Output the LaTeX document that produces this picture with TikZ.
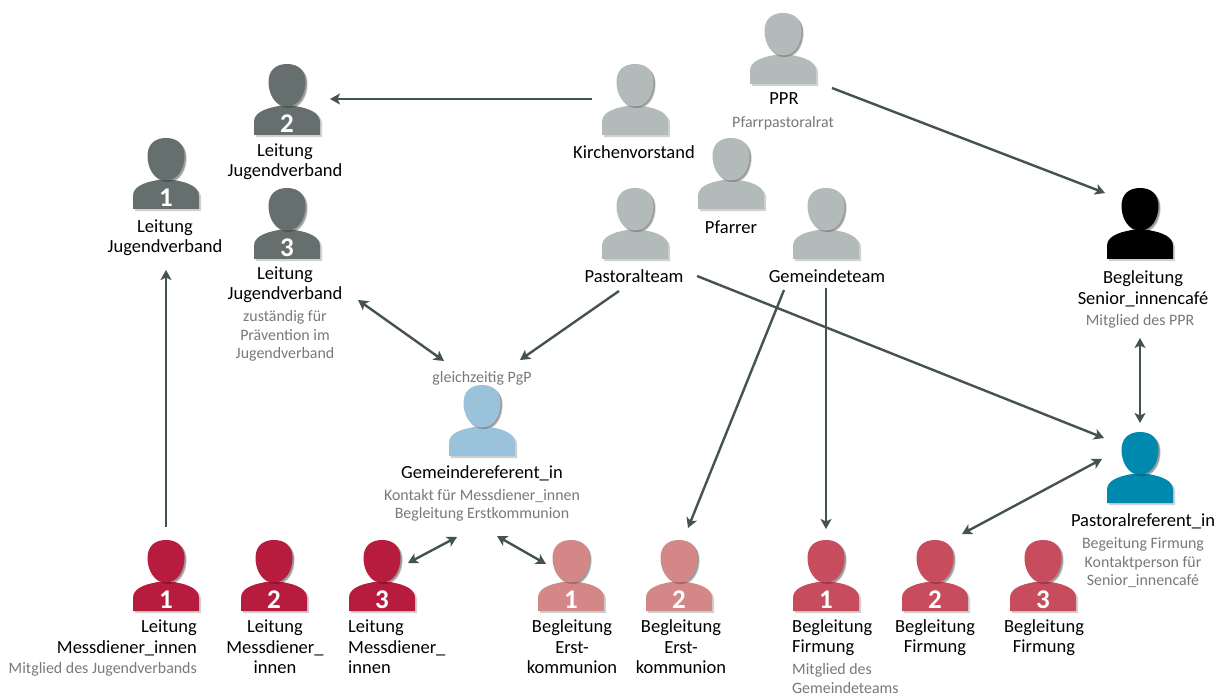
\documentclass[tikz,border=0pt]{standalone}
\usepackage{fontspec}
\setmainfont{Carlito}
\usetikzlibrary{arrows.meta}
\definecolor{cdark}{HTML}{656F6E}
\definecolor{cgrey}{HTML}{B2BBBA}
\definecolor{cblue}{HTML}{9AC3DB}
\definecolor{cteal}{HTML}{0089AE}
\definecolor{ccrim}{HTML}{B71C3F}
\definecolor{cpink}{HTML}{D38787}
\definecolor{crose}{HTML}{C74C5D}
\definecolor{carrow}{HTML}{45534F}
\definecolor{csub}{HTML}{757A7A}
\tikzset{
  x=1pt,y=-1pt,
  personbox/.style={rectangle,minimum width=66pt,minimum height=71pt,inner sep=0pt,outer sep=0pt},
  numlabel/.style={font=\fontsize{27}{27}\selectfont\bfseries,text=white,inner sep=0pt},
  lab/.style={font=\fontsize{18.5}{20.4}\selectfont,text=black,inner sep=0pt,align=center},
  labl/.style={lab,align=left,anchor=west},
  labr/.style={lab,align=right,anchor=east},
  sub/.style={font=\fontsize{15.9}{18.5}\selectfont,text=csub,inner sep=0pt,align=center},
  subl/.style={sub,align=left,anchor=west},
  subr/.style={sub,align=right,anchor=east},
  conn/.style={draw=carrow,line width=2.4pt,-{Stealth[length=10pt,width=11pt,inset=2.5pt]}},
  conn2/.style={draw=carrow,line width=2.4pt,{Stealth[length=10pt,width=11pt,inset=2.5pt]}-{Stealth[length=10pt,width=11pt,inset=2.5pt]}},
}
\newcommand\headpath{(0,0) .. controls (12,0) and (18.5,7) .. (18.5,18) .. controls (18.5,30) and (12,42.5) .. (0,42.5) .. controls (-12,42.5) and (-18.5,30) .. (-18.5,18) .. controls (-18.5,7) and (-12,0) .. (0,0) -- cycle}
\newcommand\bodypath{(-33,71) -- (-33,58) .. controls (-33,49) and (-23,44.5) .. (-8,42) -- (8,42) .. controls (23,44.5) and (33,49) .. (33,58) -- (33,71) -- cycle}
% #1 name, #2 x, #3 top, #4 colour
\newcommand\person[4]{%
  \begin{scope}[shift={(#2,#3)}]
    \fill[black,opacity=.18] [shift={(2.2,2.2)}] \headpath;
    \fill[black,opacity=.18] [shift={(2.2,2.2)}] \bodypath;
    \fill[#4] \bodypath;
    \fill[black,opacity=.25] [shift={(1.5,1.5)}] \headpath;
    \fill[#4] \headpath;
    \node[personbox] (#1) at (0,35.5) {};
  \end{scope}}
\newcommand\pnum[2]{\node[numlabel] (#1num) at ([yshift=-24pt]#1.center) {#2};}
\begin{document}
\begin{tikzpicture}
\useasboundingbox (0,0) rectangle (1216,695);
\fill[white] (0,0) rectangle (1216,695);
\person{lja}{166}{138}{cdark}\pnum{lja}{1}
\person{ljb}{287}{64}{cdark}\pnum{ljb}{2}
\person{ljc}{287}{188}{cdark}\pnum{ljc}{3}
\person{kv}{635}{64}{cgrey}
\person{ppr}{783}{13}{cgrey}
\person{pf}{731}{138}{cgrey}
\person{pt}{635}{188}{cgrey}
\person{gt}{826}{188}{cgrey}
\person{sc}{1140}{188}{black}
\person{gr}{482}{385}{cblue}
\person{pr}{1140}{432}{cteal}
\person{msa}{166}{540}{ccrim}\pnum{msa}{1}
\person{msb}{274}{540}{ccrim}\pnum{msb}{2}
\person{msc}{382}{540}{ccrim}\pnum{msc}{3}
\person{eka}{571}{540}{cpink}\pnum{eka}{1}
\person{ekb}{679}{540}{cpink}\pnum{ekb}{2}
\person{fia}{826}{540}{crose}\pnum{fia}{1}
\person{fib}{935}{540}{crose}\pnum{fib}{2}
\person{fic}{1043}{540}{crose}\pnum{fic}{3}

\node[lab] (tljb) at (285,162) {Leitung\\Jugendverband};
\node[lab] (tlja) at (165,238) {Leitung\\Jugendverband};
\node[lab] (tljc) at (285,285) {Leitung\\Jugendverband};
\node[sub] (sljc) at (285,336) {zuständig für\\Prävention im\\Jugendverband};
\node[lab] (tkv) at (634,152.5) {Kirchenvorstand};
\node[lab] (tppr) at (784,99) {PPR};
\node[sub] (sppr) at (783,123.5) {Pfarrpastoralrat};
\node[lab] (tpf) at (731,227) {Pfarrer};
\node[lab] (tpt) at (634,276) {Pastoralteam};
\node[lab] (tgt) at (827,276) {Gemeindeteam};
\node[lab] (tsc) at (1143,289) {Begleitung\\Senior\_innencafé};
\node[sub] (ssc) at (1140,321.5) {Mitglied des PPR};
\node[sub] (sgp) at (482,378.5) {gleichzeitig PgP};
\node[lab] (tgr) at (482,473) {Gemeindereferent\_in};
\node[sub] (sgr) at (482,505.5) {Kontakt für Messdiener\_innen\\Begleitung Erstkommunion};
\node[lab] (tpr) at (1143,521) {Pastoralreferent\_in};
\node[sub] (spr) at (1143,563) {Begeitung Firmung\\Kontaktperson für\\Senior\_innencafé};
\node[labr] (tmsa) at (197,638) {Leitung\\Messdiener\_innen};
\node[subr] (smsa) at (197,669.5) {Mitglied des Jugendverbands};
\node[lab] (tmsb) at (275,647) {Leitung\\Messdiener\_\\innen};
\node[labl] (tmsc) at (348,647) {Leitung\\Messdiener\_\\innen};
\node[lab] (teka) at (572,647) {Begleitung\\Erst-\\kommunion};
\node[lab] (tekb) at (681,647) {Begleitung\\Erst-\\kommunion};
\node[labl] (tfia) at (792,637.5) {Begleitung\\Firmung};
\node[subl] (sfia) at (792,678.5) {Mitglied des\\Gemeindeteams};
\node[lab] (tfib) at (935,637.5) {Begleitung\\Firmung};
\node[lab] (tfic) at (1044,637.5) {Begleitung\\Firmung};

\draw[conn] ([shift={(-43,-.5)}]kv.center) -- ([shift={(43,-.5)}]ljb.center);
\draw[conn] ([shift={(49,39.5)}]ppr.center) -- ([shift={(-35,-30.5)}]sc.center);
\draw[conn] ([shift={(0,-48.5)}]msa.center) -- ([shift={(0,96.5)}]lja.center);
\draw[conn2] ([shift={(71,76.5)}]ljc.center) -- ([shift={(-38,-59.5)}]gr.center);
\draw[conn] ([shift={(-16,67.5)}]pt.center) -- ([shift={(38,-60.5)}]gr.center);
\draw[conn] ([shift={(62,52.5)}]pt.center) -- ([shift={(-36,-29.5)}]pr.center);
\draw[conn] ([shift={(-42,66.5)}]gt.center) -- ([shift={(9,-47.5)}]ekb.center);
\draw[conn] ([shift={(0,64.5)}]gt.center) -- ([shift={(0,-46.5)}]fia.center);
\draw[conn2] ([shift={(0,114.5)}]sc.center) -- ([shift={(0,-44.5)}]pr.center);
\draw[conn2] ([shift={(-38,-8.5)}]pr.center) -- ([shift={(27,-41.5)}]fib.center);
\draw[conn2] ([shift={(26,-12.5)}]msc.center) -- ([shift={(-25,116.5)}]gr.center);
\draw[conn2] ([shift={(15,115.5)}]gr.center) -- ([shift={(-25,-11.5)}]eka.center);
\end{tikzpicture}
\end{document}
